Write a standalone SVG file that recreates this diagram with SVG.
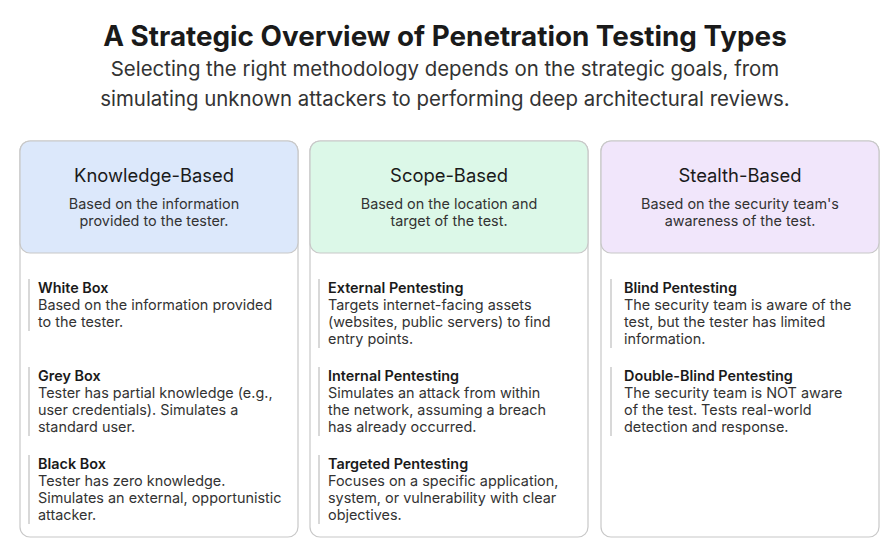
<svg xmlns="http://www.w3.org/2000/svg" width="890" height="554" viewBox="0 0 890 554">
<style>
text{font-family:Inter,"Noto Sans",sans-serif;fill:#1a1a1a}
.t{font-size:27.8px;font-weight:700;text-anchor:middle}
.s{font-size:20.4px;text-anchor:middle;fill:#333}
.h{font-size:18.4px;text-anchor:middle}
.d{font-size:14.4px;text-anchor:middle;fill:#333}
.it{font-size:14.4px;font-weight:600}
.b{font-size:14.4px;fill:#333}
.card{fill:#fff;stroke:#c8c8c8;stroke-width:1.2}
.bar{stroke:#d8d8d8;stroke-width:2}
</style>
<rect width="890" height="554" fill="#fff"/>
<text class="t" x="445" y="46">A Strategic Overview of Penetration Testing Types</text>
<text class="s" x="445" y="76">Selecting the right methodology depends on the strategic goals, from</text>
<text class="s" x="445" y="106">simulating unknown attackers to performing deep architectural reviews.</text>
<g id="knowledge">
<rect class="card" x="20" y="141" width="278" height="396" rx="10"/>
<path d="M20,151a10,10 0 0 1 10,-10h258a10,10 0 0 1 10,10v92a10,10 0 0 1 -10,10h-258a10,10 0 0 1 -10,-10z" fill="#dce8fb" stroke="#c8c8c8" stroke-width="1.2"/>
<text class="h" x="154" y="182">Knowledge-Based</text>
<text class="d" x="154" y="209">Based on the information</text>
<text class="d" x="154" y="226">provided to the tester.</text>
<line class="bar" x1="29" y1="279" x2="29" y2="331"/>
<text class="it" x="38" y="293">White Box</text>
<text class="b" x="38" y="310">Based on the information provided</text>
<text class="b" x="38" y="327">to the tester.</text>
<line class="bar" x1="29" y1="367" x2="29" y2="436"/>
<text class="it" x="38" y="381">Grey Box</text>
<text class="b" x="38" y="398">Tester has partial knowledge (e.g.,</text>
<text class="b" x="38" y="415">user credentials). Simulates a</text>
<text class="b" x="38" y="432">standard user.</text>
<line class="bar" x1="29" y1="455" x2="29" y2="524"/>
<text class="it" x="38" y="469">Black Box</text>
<text class="b" x="38" y="486">Tester has zero knowledge.</text>
<text class="b" x="38" y="503">Simulates an external, opportunistic</text>
<text class="b" x="38" y="520">attacker.</text>
</g>
<g id="scope">
<rect class="card" x="310" y="141" width="278" height="396" rx="10"/>
<path d="M310,151a10,10 0 0 1 10,-10h258a10,10 0 0 1 10,10v92a10,10 0 0 1 -10,10h-258a10,10 0 0 1 -10,-10z" fill="#dcf8e8" stroke="#c8c8c8" stroke-width="1.2"/>
<text class="h" x="449" y="182">Scope-Based</text>
<text class="d" x="449" y="209">Based on the location and</text>
<text class="d" x="449" y="226">target of the test.</text>
<line class="bar" x1="319" y1="279" x2="319" y2="348"/>
<text class="it" x="328" y="293">External Pentesting</text>
<text class="b" x="328" y="310">Targets internet-facing assets</text>
<text class="b" x="328" y="327">(websites, public servers) to find</text>
<text class="b" x="328" y="344">entry points.</text>
<line class="bar" x1="319" y1="367" x2="319" y2="436"/>
<text class="it" x="328" y="381">Internal Pentesting</text>
<text class="b" x="328" y="398">Simulates an attack from within</text>
<text class="b" x="328" y="415">the network, assuming a breach</text>
<text class="b" x="328" y="432">has already occurred.</text>
<line class="bar" x1="319" y1="455" x2="319" y2="524"/>
<text class="it" x="328" y="469">Targeted Pentesting</text>
<text class="b" x="328" y="486">Focuses on a specific application,</text>
<text class="b" x="328" y="503">system, or vulnerability with clear</text>
<text class="b" x="328" y="520">objectives.</text>
</g>
<g id="stealth">
<rect class="card" x="601" y="141" width="278" height="396" rx="10"/>
<path d="M601,151a10,10 0 0 1 10,-10h258a10,10 0 0 1 10,10v92a10,10 0 0 1 -10,10h-258a10,10 0 0 1 -10,-10z" fill="#f1e6fb" stroke="#c8c8c8" stroke-width="1.2"/>
<text class="h" x="740" y="182">Stealth-Based</text>
<text class="d" x="740" y="209">Based on the security team's</text>
<text class="d" x="740" y="226">awareness of the test.</text>
<line class="bar" x1="611" y1="279" x2="611" y2="348"/>
<text class="it" x="624" y="293">Blind Pentesting</text>
<text class="b" x="624" y="310">The security team is aware of the</text>
<text class="b" x="624" y="327">test, but the tester has limited</text>
<text class="b" x="624" y="344">information.</text>
<line class="bar" x1="611" y1="367" x2="611" y2="436"/>
<text class="it" x="624" y="381">Double-Blind Pentesting</text>
<text class="b" x="624" y="398">The security team is NOT aware</text>
<text class="b" x="624" y="415">of the test. Tests real-world</text>
<text class="b" x="624" y="432">detection and response.</text>
</g>
<g id="connectors"/>
</svg>
